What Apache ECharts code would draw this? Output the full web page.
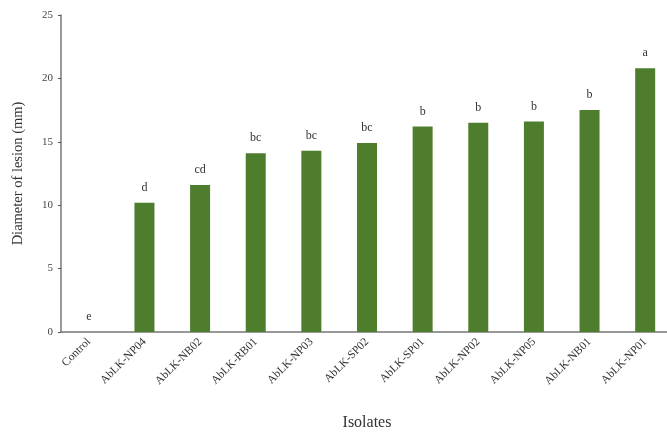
<!DOCTYPE html>
<html><head><meta charset="utf-8">
<script src="https://cdn.jsdelivr.net/npm/echarts@6/dist/echarts.min.js"></script>
<style>html,body{margin:0;padding:0;background:#fff}#c{width:667px;height:433px}</style>
</head><body><div id="c"></div>
<script>
const categories = ['Control','AbLK-NP04','AbLK-NB02','AbLK-RB01','AbLK-NP03','AbLK-SP02','AbLK-SP01','AbLK-NP02','AbLK-NP05','AbLK-NB01','AbLK-NP01'];
const values = [0, 10.2, 11.6, 14.1, 14.3, 14.9, 16.2, 16.5, 16.6, 17.5, 20.8];
const letters = ['e','d','cd','bc','bc','bc','b','b','b','b','a'];
const yTicks = [0, 5, 10, 15, 20, 25];

const font = 'Liberation Serif';
const chart = echarts.init(document.getElementById('c'));
chart.setOption({
  animation: false,
  grid: {left: 61, width: 612, top: 15, height: 317, outerBoundsMode: 'none', containLabel: false},
  xAxis: {
    type: 'category', data: categories,
    name: 'Isolates', nameLocation: 'middle', nameGap: 83,
    nameTextStyle: {fontFamily: font, fontSize: 16, color: '#333'},
    axisLine: {lineStyle: {color: '#777', width: 1.5}},
    axisTick: {alignWithLabel: true, length: 3, lineStyle: {color: '#555'}},
    axisLabel: {rotate: 45, fontFamily: font, fontSize: 11.5, color: '#333', margin: 8, interval: 0}
  },
  yAxis: {
    type: 'value', min: yTicks[0], max: yTicks[yTicks.length-1], interval: 5,
    name: 'Diameter of lesion (mm)', nameLocation: 'middle', nameGap: 35,
    nameTextStyle: {fontFamily: font, fontSize: 14.5, color: '#333'},
    splitLine: {show: false},
    axisLine: {show: true, lineStyle: {color: '#777', width: 1.5}},
    axisTick: {show: true, length: 3, lineStyle: {color: '#555'}},
    axisLabel: {fontFamily: font, fontSize: 11, color: '#444', margin: 8}
  },
  series: [{
    type: 'bar', data: values, barWidth: 20,
    itemStyle: {color: '#4e7d2e'},
    label: {
      show: true, position: 'top', distance: 9,
      fontFamily: font, fontSize: 12, color: '#333',
      formatter: p => letters[p.dataIndex]
    }
  }]
});
</script></body></html>
